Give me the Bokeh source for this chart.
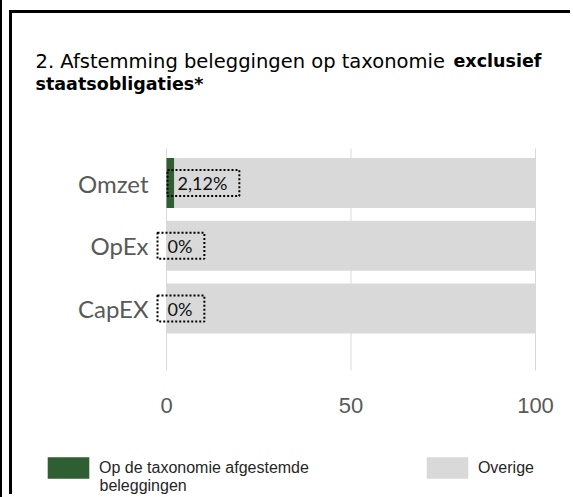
from bokeh.plotting import figure
from bokeh.models import (Range1d, FixedTicker, Label, Legend, LegendItem, ColumnDataSource)
from bokeh.core.properties import value
from bokeh.embed import file_html
from bokeh.resources import INLINE

# ---- data ----
categories = ["Omzet", "OpEx", "CapEX"]
aligned = [2.12, 0.0, 0.0]
other = [97.88, 100.0, 100.0]
label_texts = ["2,12%", "0%", "0%"]
x_ticks = [0, 50, 100]
series_names = ["Op de taxonomie afgestemde beleggingen", "Overige"]
title_normal = "2. Afstemming beleggingen op taxonomie"
title_bold_1 = "exclusief"
title_bold_2 = "staatsobligaties*"

GREEN = "#2E5E31"
GREY = "#D9D9D9"

# ---- layout (canvas pixels) ----
W, H = 561, 484
X0_PX, X100_PX = 154, 523          # where 0 and 100 sit
PPU_X = (X100_PX - X0_PX) / 100.0
ROW_PX = 62.75                      # distance between category rows
LAST_ROW_PX = 295                   # centre of bottom row
BAR_TOP_PX, BAR_BOTTOM_PX = 135, 357

x_start = -X0_PX / PPU_X
x_end = (W - X0_PX) / PPU_X
y_end = LAST_ROW_PX / ROW_PX
y_start = -(H - LAST_ROW_PX) / ROW_PX
grid_top = (LAST_ROW_PX - BAR_TOP_PX) / ROW_PX
grid_bottom = (LAST_ROW_PX - BAR_BOTTOM_PX) / ROW_PX

ypos = [len(categories) - 1 - i for i in range(len(categories))]
right_other = [a + o for a, o in zip(aligned, other)]

src = ColumnDataSource(dict(y=ypos, cat=categories, a=aligned, l=aligned, r=right_other,
                            txt=label_texts, xo=[1, -9, -9]))

p = figure(width=W, height=H, x_range=Range1d(x_start, x_end), y_range=Range1d(y_start, y_end),
           output_backend="svg", toolbar_location=None,
           min_border_left=0, min_border_right=0, min_border_top=0, min_border_bottom=0)
p.styles = {"border-left": "3px solid black", "border-top": "3px solid black",
            "margin-left": "9px", "margin-top": "10px",
            "box-shadow": "3px 0 0 10px white, 1px 0 0 10px black"}
p.outline_line_color = None
p.background_fill_color = "white"
p.border_fill_color = "white"
p.xgrid.visible = False
p.ygrid.visible = False

# gridlines at the tick values
p.segment(x0=x_ticks, x1=x_ticks, y0=grid_bottom, y1=grid_top, line_color=GREY, line_width=1)

r_green = p.hbar(y="y", left=0, right="a", height=0.8, source=src, fill_color=GREEN, line_color=None)
r_grey = p.hbar(y="y", left="l", right="r", height=0.8, source=src, fill_color=GREY, line_color=None)

p.text(x=0, y="y", text="txt", source=src, x_offset="xo", text_align="left", text_baseline="middle",
       text_font=value("Lato"), text_font_size="18px", text_color="#111111",
       border_line_color="black", border_line_dash="2 2", border_line_width=2,
       padding=dict(left=10, right=12, top=2, bottom=2))

# axes
p.xaxis.fixed_location = grid_bottom
p.xaxis.ticker = FixedTicker(ticks=x_ticks)
p.xaxis.axis_line_color = None
p.xaxis.major_tick_line_color = None
p.xaxis.minor_tick_line_color = None
p.xaxis.major_label_text_font = "Liberation Sans"
p.xaxis.major_label_text_font_size = "22px"
p.xaxis.major_label_text_color = "#595959"
p.xaxis.major_label_standoff = 21

p.yaxis.fixed_location = 0
p.yaxis.ticker = FixedTicker(ticks=ypos)
p.yaxis.major_label_overrides = {y: c for y, c in zip(ypos, categories)}
p.yaxis.axis_line_color = None
p.yaxis.major_tick_line_color = None
p.yaxis.minor_tick_line_color = None
p.yaxis.major_label_text_font = "Lato"
p.yaxis.major_label_text_font_size = "24px"
p.yaxis.major_label_text_color = "#595959"
p.yaxis.major_label_standoff = 12

# title
p.add_layout(Label(x=23, y=H - 36, x_units="screen", y_units="screen", text=title_normal,
                   text_font="DejaVu Sans", text_font_size="19.5px", text_color="black",
                   text_baseline="top"))
p.add_layout(Label(x=441, y=H - 37, x_units="screen", y_units="screen", text=title_bold_1,
                   text_font="DejaVu Sans", text_font_size="17.5px", text_font_style="bold",
                   text_color="black", text_baseline="top"))
p.add_layout(Label(x=23, y=H - 60, x_units="screen", y_units="screen", text=title_bold_2,
                   text_font="DejaVu Sans", text_font_size="17.5px", text_font_style="bold",
                   text_color="black", text_baseline="top"))

# legend (first label wraps onto a second line, as in the original)
wrap_first, wrap_second = series_names[0].rsplit(" ", 1)
legend = Legend(items=[LegendItem(label=wrap_first, renderers=[r_green]),
                       LegendItem(label=series_names[1], renderers=[r_grey])],
                orientation="horizontal", location=(30, 16),
                glyph_width=52, glyph_height=27, label_standoff=5, spacing=112,
                padding=0, margin=0, border_line_color=None, background_fill_alpha=0,
                label_text_font="Liberation Sans", label_text_font_size="16px",
                label_text_color="#262626")
p.add_layout(legend, "center")
p.add_layout(Label(x=87, y=21, x_units="screen", y_units="screen", text=wrap_second,
                   text_font="Liberation Sans", text_font_size="16px", text_color="#262626",
                   text_baseline="top"))

open("out.html", "w").write(file_html(p, INLINE))
